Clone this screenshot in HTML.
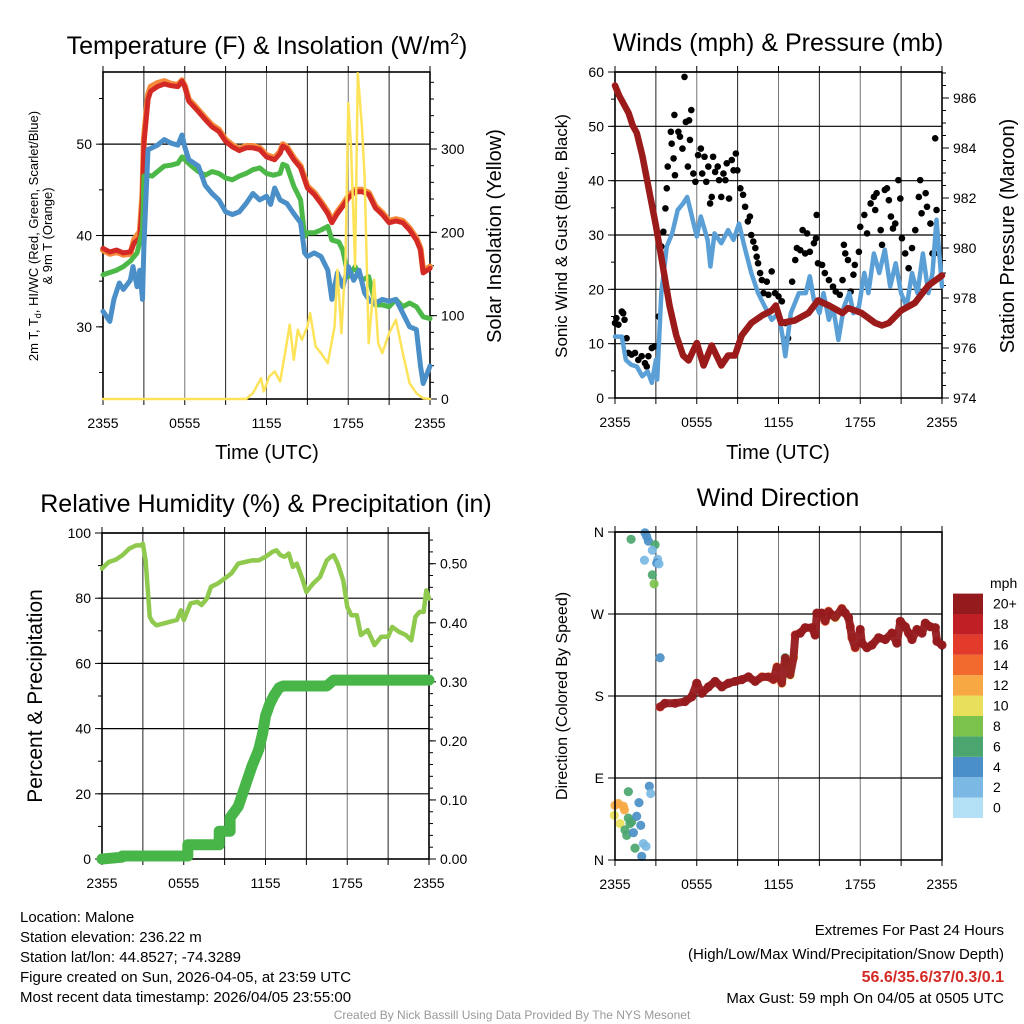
<!DOCTYPE html>
<html><head><meta charset="utf-8">
<style>
html,body{margin:0;padding:0;background:#fff;}
#root{position:relative;width:1024px;height:1024px;overflow:hidden;font-family:"Liberation Sans",sans-serif;}
svg text{font-family:"Liberation Sans",sans-serif;}
</style></head>
<body>
<div id="root">
<svg id="svg" width="1024" height="1024" viewBox="0 0 1024 1024" xmlns="http://www.w3.org/2000/svg">
<text x="267" y="54" font-size="25" text-anchor="middle">Temperature (F) &amp; Insolation (W/m<tspan dy="-10" font-size="16">2</tspan><tspan dy="10">)</tspan></text>
<text x="778" y="51" font-size="25" text-anchor="middle">Winds (mph) &amp; Pressure (mb)</text>
<text x="266" y="512" font-size="25" text-anchor="middle">Relative Humidity (%) &amp; Precipitation (in)</text>
<text x="778" y="506" font-size="25" text-anchor="middle">Wind Direction</text>
<text x="267" y="459" font-size="20" text-anchor="middle">Time (UTC)</text>
<text x="778" y="459" font-size="20" text-anchor="middle">Time (UTC)</text>
<text transform="translate(38,236) rotate(-90)" font-size="13" text-anchor="middle">2m T, T<tspan dy="3" font-size="9">d</tspan><tspan dy="-3">, HI/WC (Red, Green, Scarlet/Blue)</tspan></text>
<text transform="translate(52,236) rotate(-90)" font-size="13" text-anchor="middle">&amp; 9m T (Orange)</text>
<text transform="translate(501,236) rotate(-90)" font-size="20" text-anchor="middle">Solar Insolation (Yellow)</text>
<text transform="translate(567,236) rotate(-90)" font-size="17" text-anchor="middle">Sonic Wind &amp; Gust (Blue, Black)</text>
<text transform="translate(1014,236) rotate(-90)" font-size="20" text-anchor="middle">Station Pressure (Maroon)</text>
<text transform="translate(42,696) rotate(-90)" font-size="21" text-anchor="middle">Percent &amp; Precipitation</text>
<text transform="translate(567,696) rotate(-90)" font-size="16" text-anchor="middle">Direction (Colored By Speed)</text>
<g font-size="15">
<text x="20" y="922">Location: Malone</text>
<text x="20" y="942">Station elevation: 236.22 m</text>
<text x="20" y="962">Station lat/lon: 44.8527; -74.3289</text>
<text x="20" y="982">Figure created on Sun, 2026-04-05, at 23:59 UTC</text>
<text x="20" y="1002">Most recent data timestamp: 2026/04/05 23:55:00</text>
</g>
<g font-size="15" text-anchor="end">
<text x="1004" y="935">Extremes For Past 24 Hours</text>
<text x="1004" y="959">(High/Low/Max Wind/Precipitation/Snow Depth)</text>
<text x="1004" y="982" fill="#d42a25" font-weight="bold" font-size="16">56.6/35.6/37/0.3/0.1</text>
<text x="1004" y="1003">Max Gust: 59 mph On 04/05 at 0505 UTC</text>
</g>
<text x="512" y="1019" font-size="12" fill="#999" text-anchor="middle">Created By Nick Bassill Using Data Provided By The NYS Mesonet</text>
</svg>
</div>
<script>
// ---------- DATA ----------
const tempTimes=[0,0.5,1,1.5,2,2.3,2.7,2.9,3,3.3,3.5,4,4.5,5,5.5,5.8,6,6.3,6.8,7.5,8,8.5,9,9.5,10,10.5,11,11.5,12,12.6,13,13.2,13.5,14,14.5,15,15.5,16,16.5,16.8,17.2,17.6,18,18.5,19,19.5,20,20.5,21,21.5,22,22.5,23,23.3,23.5,24];
const redT=[38.6,38.2,38.4,38.1,38.2,39.2,39.7,43.9,50.1,54.9,55.8,56.3,56.6,56.4,56.3,56.9,56.3,54.7,53.9,52.7,51.9,51.4,50.3,49.7,49.3,49.6,49.6,49.4,48.6,48.3,49.0,49.8,49.5,48.3,47.4,45.2,44.5,43.5,42.4,41.4,42.4,43.2,44.1,44.8,44.8,44.5,43.0,42.3,41.4,41.6,41.4,40.6,39.5,38.4,35.9,36.4];
const orangeT=[38.4,38.0,38.2,37.9,38.0,39.6,40.4,44.6,50.6,55.4,56.3,56.7,56.9,56.6,56.5,57.0,56.4,54.9,54.1,52.9,52.1,51.6,50.5,49.9,49.5,49.8,49.8,49.6,48.8,48.5,49.2,50.0,49.7,48.5,47.6,45.4,44.7,43.7,42.6,41.6,42.6,43.4,44.3,45.0,45.0,44.7,43.2,42.5,41.6,41.8,41.6,40.8,39.7,38.6,36.1,36.6];
const greenTimes=[0,1,1.5,2,2.5,2.9,3,3.3,3.6,4,4.5,5,5.5,5.8,6,6.5,7,7.5,8,8.5,9,9.5,10,10.5,11,11.5,12,12.5,13,13.2,13.5,14,14.5,14.8,15,15.5,16,16.5,16.8,17.3,17.6,18,18.5,19,19.5,20,20.5,21,21.5,22,22.5,23,23.5,24];
const greenT=[35.7,36.2,36.6,37.2,38.1,40.6,46.5,46.6,46.5,47.0,47.6,47.7,47.9,48.6,48.3,47.6,47.0,46.6,47.0,46.8,46.3,46.1,46.5,46.8,47.2,47.4,46.8,46.6,46.8,47.8,47.6,45.4,43.9,39.9,40.3,40.3,40.6,41.0,39.5,39.3,38.4,35.5,36.6,35.1,35.5,32.4,32.4,32.2,33.0,32.2,32.6,32.2,31.1,30.9];
const blueTimes=[0,0.5,0.8,1.2,1.5,2,2.2,2.5,2.7,2.9,3,3.3,3.6,4,4.5,5,5.5,5.8,6,6.3,7,7.5,8,8.5,9,9.5,10,10.5,11,11.5,12,12.3,12.6,13,13.5,14,14.5,14.8,15,15.5,16,16.5,16.8,17.2,17.6,18,18.4,18.8,19.2,19.6,20,20.5,21,21.5,22,22.5,23,23.3,23.5,24];
const blueT=[31.7,30.6,33.0,34.8,34.1,35.1,36.6,34.4,36.2,33.0,38.8,49.4,49.6,49.9,50.5,50.1,49.9,51.0,49.7,48.3,47.6,45.5,44.6,43.9,42.6,42.3,42.6,43.5,44.6,43.9,44.3,43.4,45.2,43.9,43.5,42.4,41.4,38.1,37.7,38.1,37.7,36.2,33.0,35.9,34.4,36.6,35.1,36.2,33.7,32.8,32.6,33.0,32.8,33.0,31.5,30.0,29.7,25.7,23.8,25.7];
const solarTimes=[0,10.5,11,11.6,11.8,12.2,12.6,13,13.4,13.7,14,14.3,14.6,15,15.2,15.6,16,16.5,17,17.2,17.5,17.8,18,18.2,18.5,18.7,19,19.2,19.5,19.9,20.2,20.5,21,21.5,22,22.5,23,23.5,24];
const solarW=[0,0,7,25,9,27,33,21,59,89,47,83,71,87,103,63,55,43,87,155,79,167,355,303,159,391,327,267,67,143,67,55,79,95,55,19,7,1,0];
const windTimes=[0,0.5,0.8,1.2,1.6,2,2.4,2.7,3,3.1,3.4,3.8,4.2,4.6,5,5.3,5.7,6,6.3,6.8,7,7.3,7.8,8.3,8.7,9.1,9.5,10,10.5,11,11.5,12,12.3,12.5,12.9,13.5,14,14.3,14.6,15,15.3,15.7,16,16.4,16.8,17.2,17.5,17.9,18.3,18.6,19,19.4,19.8,20.2,20.6,21,21.4,21.8,22.2,22.6,23,23.3,23.6,24];
const windMph=[11.3,11.3,7.0,6.1,5.8,4.0,4.9,2.8,7.0,3.4,19.3,27.9,30.3,34.6,35.8,37.0,32.8,29.7,33.4,29.1,24.2,30.3,28.5,30.9,29.1,32.1,27.9,23.0,19.3,16.8,14.4,15.6,11.3,7.7,15.6,19.3,19.3,22.4,18.1,15.6,19.3,14.4,16.8,10.7,16.8,19.3,15.6,16.8,23.0,19.3,26.6,23.0,27.3,20.5,24.8,19.3,16.8,23.0,19.3,26.6,19.3,23.0,32.8,20.5];
const gustTimes=[0,0.1,0.25,0.5,0.6,0.7,0.85,0.98,1.22,1.47,1.71,1.96,2.2,2.33,2.45,2.7,2.89,3.2,3.4,3.55,3.7,3.8,3.87,4.1,4.36,4.16,4.3,4.4,4.65,4.77,4.95,5.1,5.2,5.44,5.6,5.5,5.35,5.75,5.9,6.1,6.3,6.4,6.57,6.7,6.85,6.98,7.1,7.2,7.35,7.54,7.64,7.8,7.96,8.1,8.2,8.37,8.57,8.7,8.87,8.98,9.2,9.4,9.55,9.75,9.9,10.0,10.15,10.3,10.4,10.5,10.65,10.78,10.9,11.14,11.26,11.5,11.75,12.0,12.25,12.5,12.7,13.0,13.23,13.35,13.6,13.77,13.96,14.1,14.3,14.6,14.75,14.8,14.9,15.2,15.4,15.7,16.0,16.2,16.5,16.7,16.8,16.9,17.1,17.3,17.5,17.6,17.9,18.0,18.3,18.5,18.76,19.0,19.1,19.2,19.5,19.6,19.8,19.96,20.1,20.25,20.4,20.57,20.8,20.94,21.06,21.3,21.55,21.8,22.04,22.3,22.4,22.5,22.8,22.9,23.15,23.3,23.5,23.6,23.75];
const gustMph=[13.8,14.7,13.5,15.9,15.6,14.4,11.0,8.3,8.0,8.3,7.0,7.7,6.4,5.8,7.7,9.2,9.5,15.0,27.9,30.6,34.9,38.6,42.6,49.0,52.1,46.8,44.1,41.0,49.0,48.1,45.9,59.1,50.8,51.1,53.0,47.5,42.6,41.3,39.8,44.7,45.9,41.3,44.4,39.8,42.6,35.8,37.0,44.4,41.6,42.6,40.1,37.0,41.3,40.1,43.2,36.7,43.8,41.9,45.0,41.9,38.6,37.4,35.2,32.5,33.4,30.0,28.8,27.6,26.0,24.8,23.0,21.7,19.3,21.4,19.0,23.3,19.3,18.7,17.8,13.8,11.0,21.4,25.4,27.6,27.2,30.9,26.6,30.3,26.9,28.5,29.4,33.7,24.8,24.5,23.0,21.7,20.5,19.6,19.0,21.7,28.2,26.6,25.4,19.6,22.7,24.5,26.9,31.5,33.7,30.3,35.8,37.0,34.6,37.7,30.9,28.2,38.3,38.6,36.4,33.4,31.2,32.1,40.1,36.7,29.4,26.6,23.9,27.6,30.9,37.0,40.1,34.0,37.7,35.2,32.1,26.6,47.8,34.6,26.6];
const presTimes=[0,0.3,0.6,1,1.3,1.6,2,2.5,3,3.5,4,4.5,5,5.4,6,6.5,7.1,7.8,8.3,8.8,9.3,10,10.8,11.5,11.8,12.2,13.2,14.2,14.9,15.7,16.7,17.1,18.1,19.1,19.6,20.1,21,22,23,24];
const presMb=[986.5,986.1,985.8,985.4,984.9,984.6,983.7,982.3,980.9,979.3,977.7,976.5,975.7,975.5,976.2,975.3,976.1,975.3,975.7,975.7,976.5,977.0,977.3,977.5,977.7,977.0,977.1,977.4,977.9,977.7,977.4,977.6,977.4,977.0,976.9,977.0,977.5,977.8,978.5,978.9];
const rhTimes=[0,0.5,1,1.5,2,2.5,2.8,3.0,3.2,3.4,3.5,3.7,4,4.5,5,5.5,5.8,6,6.5,7,7.3,7.7,8,8.5,9,9.5,10,10.5,11,11.5,12,12.5,12.8,13.1,13.4,13.7,14,14.3,14.7,15,15.5,16,16.5,16.8,17,17.3,17.7,18,18.3,18.7,19,19.5,20,20.5,21,21.3,21.8,22.3,22.7,23,23.3,23.6,23.8,24];
const rhPct=[89.1,91.1,91.8,93.2,95.2,96.2,96.2,96.7,91.6,80.4,74.3,72.8,71.7,72.2,72.8,73.3,76.3,73.3,78.4,78.9,77.9,79.9,83.5,84.5,86.0,87.6,90.6,91.1,91.6,91.6,92.7,94.2,94.7,93.2,92.7,93.7,89.6,90.6,86.0,81.9,84.5,86.5,91.6,92.7,93.2,90.6,85.5,77.3,74.8,74.8,68.7,70.2,65.6,68.2,68.2,71.2,69.7,68.7,67.1,74.3,75.8,75.8,82.4,79.9];
const pcpTimes=[0,1.5,1.5,6.3,6.3,8.6,8.6,9.4,9.4,10,10.5,11,11.5,11.8,12,12.3,12.6,13,13.3,16.5,17,24];
const pcpIn=[0,0.003,0.005,0.005,0.024,0.024,0.047,0.047,0.07,0.089,0.123,0.157,0.185,0.214,0.242,0.262,0.276,0.29,0.293,0.293,0.303,0.303];
const dirTimes=[0,0.24,0.61,0.69,-0.05,0.37,0.98,1.76,0.98,1.22,1.59,0.73,0.86,1.35,1.89,1.47,2.08,2.28,1.96,2.52,2.62,1.10,
 1.18,2.2,2.33,2.45,2.94,2.74,2.16,3.13,3.06,3.23,2.74,2.87,3.31];
const dirDeg=[60,62,59,55,49,40,75,63,46,42,48,33,27,30,38,13,18,15,4,81,73,40,
 352,359,355,350,346,340,329,330,326,325,313,303,222];
const dirSpd=[12,12,12,12,10,10,6,4,6,6,4,6,6,4,4,6,2,2,4,4,2,6,
 6,4,4,4,6,2,2,2,4,2,6,8,4];
const mainTimes=[3.31,3.67,4.41,5.14,5.63,6.0,6.37,6.86,7.35,7.84,8.33,8.82,9.31,9.8,10.29,10.78,11.27,11.63,11.88,12.24,12.49,12.61,12.86,12.86,13.1,13.23,13.59,13.96,14.45,14.69,14.82,15.18,15.43,15.67,15.92,16.16,16.65,16.9,17.14,17.27,17.39,17.63,18.0,18.12,18.49,18.86,19.35,19.84,20.33,20.69,20.94,21.31,21.55,21.8,22.16,22.53,22.78,23.14,23.51,23.63,24.0];
const mainDeg=[168,172,172,174,179,194,183,190,196,190,194,196,198,201,196,201,201,198,212,194,222,214,211,203,222,247,249,255,255,247,271,271,262,273,269,266,276,271,266,256,244,233,253,238,233,236,244,242,249,238,262,256,249,242,253,249,260,256,255,240,236];
const mainSpd=[16,20,20,20,20,20,20,20,20,20,20,20,20,20,20,14,14,14,12,12,6,8,10,10,12,16,20,20,20,20,20,20,14,14,20,10,14,20,20,16,15,15,20,20,20,20,20,20,20,20,20,20,18,20,20,20,20,20,20,20,20];
const xTickLabels=["2355","0555","1155","1755","2355"];
const speedLabels=["0","2","4","6","8","10","12","14","16","18","20+"];
const dirLabels=["N","E","S","W","N"];

// ---------- helpers ----------
const NS="http://www.w3.org/2000/svg";
const svg=document.getElementById('svg');
function mk(tag,attrs,parent){const e=document.createElementNS(NS,tag);for(const k in attrs)e.setAttribute(k,attrs[k]);(parent||svg).appendChild(e);return e;}
function scale(d0,d1,r0,r1){return v=>r0+(v-d0)/(d1-d0)*(r1-r0);}
function pathFrom(xs,ys,sx,sy){let d='';for(let i=0;i<xs.length;i++)d+=(i?'L':'M')+sx(xs[i]).toFixed(1)+','+sy(ys[i]).toFixed(1);return d;}
const speedColors=["#b3e0f5","#7bb8e3","#4a8fc7","#4aa66e","#7bc24d","#e8e05a","#f7a843","#f26a2e","#e23a2b","#c01f26","#951a1d"];
function spdColor(s){return speedColors[Math.max(0,Math.min(10,Math.floor(s/2)))];}

function frame(p,name){
  const g=mk('g',{});
  
  
  for(let h=3;h<24;h+=3){
    const l=mk('line',{x1:p.sx(h),x2:p.sx(h),y1:p.y0,y2:p.y1,stroke:(h%6==0)?'#777':'#222','stroke-width':1},g);
    
    
  }
  for(let h=0;h<=24;h+=3){
    mk('line',{x1:p.sx(h),x2:p.sx(h),y1:p.y1,y2:p.y1+6,stroke:'#000','stroke-width':1},g);
    mk('line',{x1:p.sx(h),x2:p.sx(h),y1:p.y0,y2:p.y0-6,stroke:'#000','stroke-width':1},g);
  }
  xTickLabels.forEach((s,i)=>{
    const t=mk('text',{x:p.sx(i*6),y:p.y1+29,'font-size':14,'text-anchor':'middle'},g);t.textContent=s;
    
    
  });
  return g;
}
function yAxis(g,p,sy,ticks,labels,minor,side,grid){
  const x=side=='l'?p.x0:p.x1, dir=side=='l'?-1:1;
  minor.forEach(v=>mk('line',{x1:x,x2:x+dir*4,y1:sy(v),y2:sy(v),stroke:'#000','stroke-width':1},g));
  ticks.forEach((v,i)=>{
    mk('line',{x1:x,x2:x+dir*7,y1:sy(v),y2:sy(v),stroke:'#000','stroke-width':1},g);
    if(grid&&i>0)mk('line',{x1:p.x0,x2:p.x1,y1:sy(v),y2:sy(v),stroke:'#000','stroke-width':1.2},g);
    const t=mk('text',{x:x+dir*11,y:sy(v)+5,'font-size':14,'text-anchor':side=='l'?'end':'start'},g);
    t.textContent=labels[i];
    
    
  });
}
function border(g,p){mk('rect',{x:p.x0,y:p.y0,width:p.x1-p.x0,height:p.y1-p.y0,fill:'none',stroke:'#000','stroke-width':1.6},g);}
function range(a,b,s){const r=[];for(let v=a;v<=b+1e-9;v+=s)r.push(+v.toFixed(4));return r;}
function line(xs,ys,sx,sy,color,w,name,op){const e=mk('path',{d:pathFrom(xs,ys,sx,sy),fill:'none',stroke:color,'stroke-width':w,'stroke-linejoin':'round','stroke-linecap':'round',opacity:op||1});
  
  return e;}

// ---------- Panel 1: temperature ----------
const P1={x0:103,x1:430,y0:72,y1:399};P1.sx=scale(0,24,P1.x0,P1.x1);
const t1=scale(22.1,57.9,P1.y1,P1.y0), s1=scale(0,392.4,P1.y1,P1.y0);
let g=frame(P1,'temperature');
yAxis(g,P1,t1,[30,40,50],["30","40","50"],range(25,55,5),'l',true);
yAxis(g,P1,s1,[0,100,200,300],["0","100","200","300"],range(0,380,20),'r',false);
line(tempTimes,orangeT,P1.sx,t1,'#f58a3a',6,'temp-9m-orange-line');
line(tempTimes,redT,P1.sx,t1,'#d42a25',5,'temp-2m-red-line');
line(greenTimes,greenT,P1.sx,t1,'#4cb847',5,'dewpoint-green-line');
line(blueTimes,blueT,P1.sx,t1,'#4a8fc7',5,'windchill-blue-line');
line(solarTimes,solarW,P1.sx,s1,'#fde35a',2.5,'solar-yellow-line');
border(g,P1);

// ---------- Panel 2: winds & pressure ----------
const P2={x0:615,x1:942,y0:72,y1:398};P2.sx=scale(0,24,P2.x0,P2.x1);
const w2=scale(0,60,P2.y1,P2.y0), p2=scale(974,987.04,P2.y1,P2.y0);
g=frame(P2,'winds');
yAxis(g,P2,w2,[0,10,20,30,40,50,60],["0","10","20","30","40","50","60"],range(0,60,5),'l',true);
yAxis(g,P2,p2,[974,976,978,980,982,984,986],["974","976","978","980","982","984","986"],range(974,987,0.5),'r',false);
line(windTimes,windMph,P2.sx,w2,'#5a9fd6',4.5,'sonic-wind-blue-line');
gustTimes.forEach((t,i)=>{const c=mk('circle',{cx:P2.sx(t),cy:w2(gustMph[i]),r:3.3,fill:'#000'},g);
  
  });
line(presTimes,presMb,P2.sx,p2,'#9b1a1a',6.5,'pressure-maroon-line');
border(g,P2);

// ---------- Panel 3: RH & precip ----------
const P3={x0:102,x1:429,y0:533,y1:859};P3.sx=scale(0,24,P3.x0,P3.x1);
const r3=scale(0,100,P3.y1,P3.y0), q3=scale(0,0.552,P3.y1,P3.y0);
g=frame(P3,'humidity');
yAxis(g,P3,r3,[0,20,40,60,80,100],["0","20","40","60","80","100"],range(0,100,10),'l',true);
yAxis(g,P3,q3,[0,0.1,0.2,0.3,0.4,0.5],["0.00","0.10","0.20","0.30","0.40","0.50"],range(0,0.54,0.02),'r',false);
line(rhTimes,rhPct,P3.sx,r3,'#8fca4f',4.5,'relative-humidity-line');
line(pcpTimes,pcpIn,P3.sx,q3,'#48b548',11,'precipitation-line');
border(g,P3);

// ---------- Panel 4: wind direction ----------
const P4={x0:615,x1:942,y0:532,y1:860};P4.sx=scale(0,24,P4.x0,P4.x1);
const d4=scale(0,360,P4.y1,P4.y0);
g=frame(P4,'wind-direction');
yAxis(g,P4,d4,[0,90,180,270,360],dirLabels,[],'l',true);
dirTimes.forEach((t,i)=>{const c=mk('circle',{cx:P4.sx(t),cy:d4(dirDeg[i]),r:4.6,fill:spdColor(dirSpd[i]),opacity:0.92},g);
  
  });
line(mainTimes,mainDeg,P4.sx,d4,'#951a1d',8,'direction-trace',0.95);
mainTimes.forEach((t,i)=>{const c=mk('circle',{cx:P4.sx(t),cy:d4(mainDeg[i]),r:4.6,fill:spdColor(mainSpd[i]),opacity:0.92},g);
  
  });
border(g,P4);

// colorbar
const cb=mk('g',{});


const cbT=mk('text',{x:990,y:588,'font-size':14},cb);cbT.textContent='mph';
speedLabels.forEach((s,i)=>{
  const y=818-(i+1)*20.4;
  const r=mk('rect',{x:953,y:y,width:30,height:20.4,fill:speedColors[i]},cb);
  
  
  const t=mk('text',{x:993,y:y+15,'font-size':14},cb);t.textContent=s;
  
  
});
</script>
</body></html>
